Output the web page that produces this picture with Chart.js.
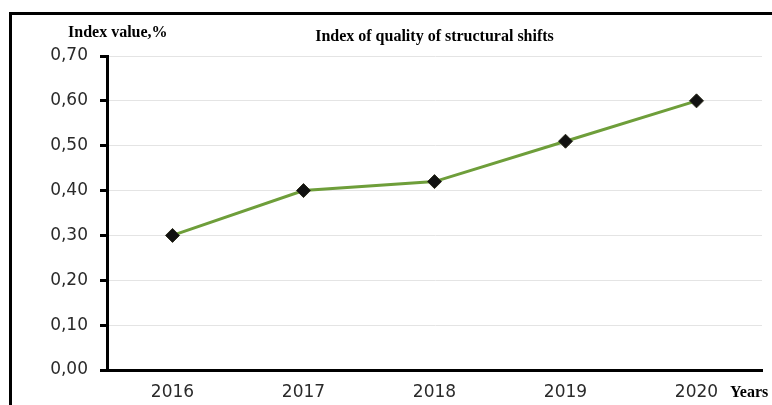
<!DOCTYPE html>
<html>
<head>
<meta charset="utf-8">
<script src="https://cdn.jsdelivr.net/npm/chart.js@4/dist/chart.umd.min.js"></script>
<style>
  html, body { margin: 0; padding: 0; background: #fff; }
  #wrap { width: 772px; height: 405px; position: relative; }
</style>
</head>
<body>
<div id="wrap"><canvas id="chartCanvas" width="772" height="405"></canvas></div>
<script>
// Datos del índice por año
const anios = ['2016', '2017', '2018', '2019', '2020'];
const valoresIndice = [0.30, 0.40, 0.42, 0.51, 0.60];
const ejeY = { min: 0, max: 0.7, paso: 0.1 };

const tituloGrafico = 'Index of quality of structural shifts';
const tituloEjeY = 'Index value,%';
const tituloEjeX = 'Years';

// Marco negro (arriba e izquierda) y los textos en serif negrita
const marcoYTextos = {
  id: 'marcoYTextos',
  beforeDraw(chart) {
    const ctx = chart.ctx;
    ctx.save();
    ctx.fillStyle = '#fff';
    ctx.fillRect(0, 0, chart.width, chart.height);
    ctx.strokeStyle = '#000';
    ctx.lineWidth = 3;
    ctx.beginPath();
    ctx.moveTo(chart.width, 13.5);
    ctx.lineTo(10.5, 13.5);
    ctx.lineTo(10.5, chart.height);
    ctx.stroke();
    ctx.restore();
  },
  afterDraw(chart) {
    const ctx = chart.ctx;
    const area = chart.chartArea;
    ctx.save();
    ctx.fillStyle = '#000';
    ctx.font = 'bold 16px "Liberation Serif", "Times New Roman", serif';
    ctx.textBaseline = 'middle';
    ctx.textAlign = 'center';
    ctx.fillText(tituloGrafico, (area.left + area.right) / 2, 37);
    ctx.textAlign = 'left';
    ctx.fillText(tituloEjeY, 68, 33);
    ctx.fillText(tituloEjeX, area.right - 32, 393);
    ctx.restore();
  }
};

const ctx = document.getElementById('chartCanvas').getContext('2d');
new Chart(ctx, {
  type: 'line',
  data: {
    labels: anios,
    datasets: [{
      data: valoresIndice,
      borderColor: '#6e9e3a',
      borderWidth: 3,
      pointStyle: 'rectRot',
      pointRadius: 7,
      pointBackgroundColor: '#111',
      pointBorderColor: '#2a2a1a',
      pointBorderWidth: 1,
      tension: 0
    }]
  },
  options: {
    responsive: false,
    animation: false,
    layout: { padding: { left: 0, top: 56, right: 10, bottom: 0 } },
    plugins: {
      legend: { display: false },
      title: { display: false },
      tooltip: { enabled: false }
    },
    scales: {
      x: {
        offset: true,
        grid: { display: false, drawTicks: false },
        border: { color: '#000', width: 3 },
        ticks: {
          color: '#2a2a2a',
          font: { family: 'DejaVu Sans', size: 17 },
          padding: 12,
          maxRotation: 0
        },
        afterFit(scale) { scale.height = 35; }
      },
      y: {
        min: ejeY.min,
        max: ejeY.max,
        grid: {
          color: '#e4e4e4',
          lineWidth: 1,
          tickColor: '#000',
          tickLength: 7,
          tickWidth: 3
        },
        border: { color: '#000', width: 3 },
        ticks: {
          stepSize: ejeY.paso,
          color: '#2a2a2a',
          font: { family: 'DejaVu Sans', size: 17 },
          padding: 12,
          callback: (v) => v.toFixed(2).replace('.', ',')
        },
        afterFit(scale) { scale.width = 107; }
      }
    }
  },
  plugins: [marcoYTextos]
});
</script>
</body>
</html>
